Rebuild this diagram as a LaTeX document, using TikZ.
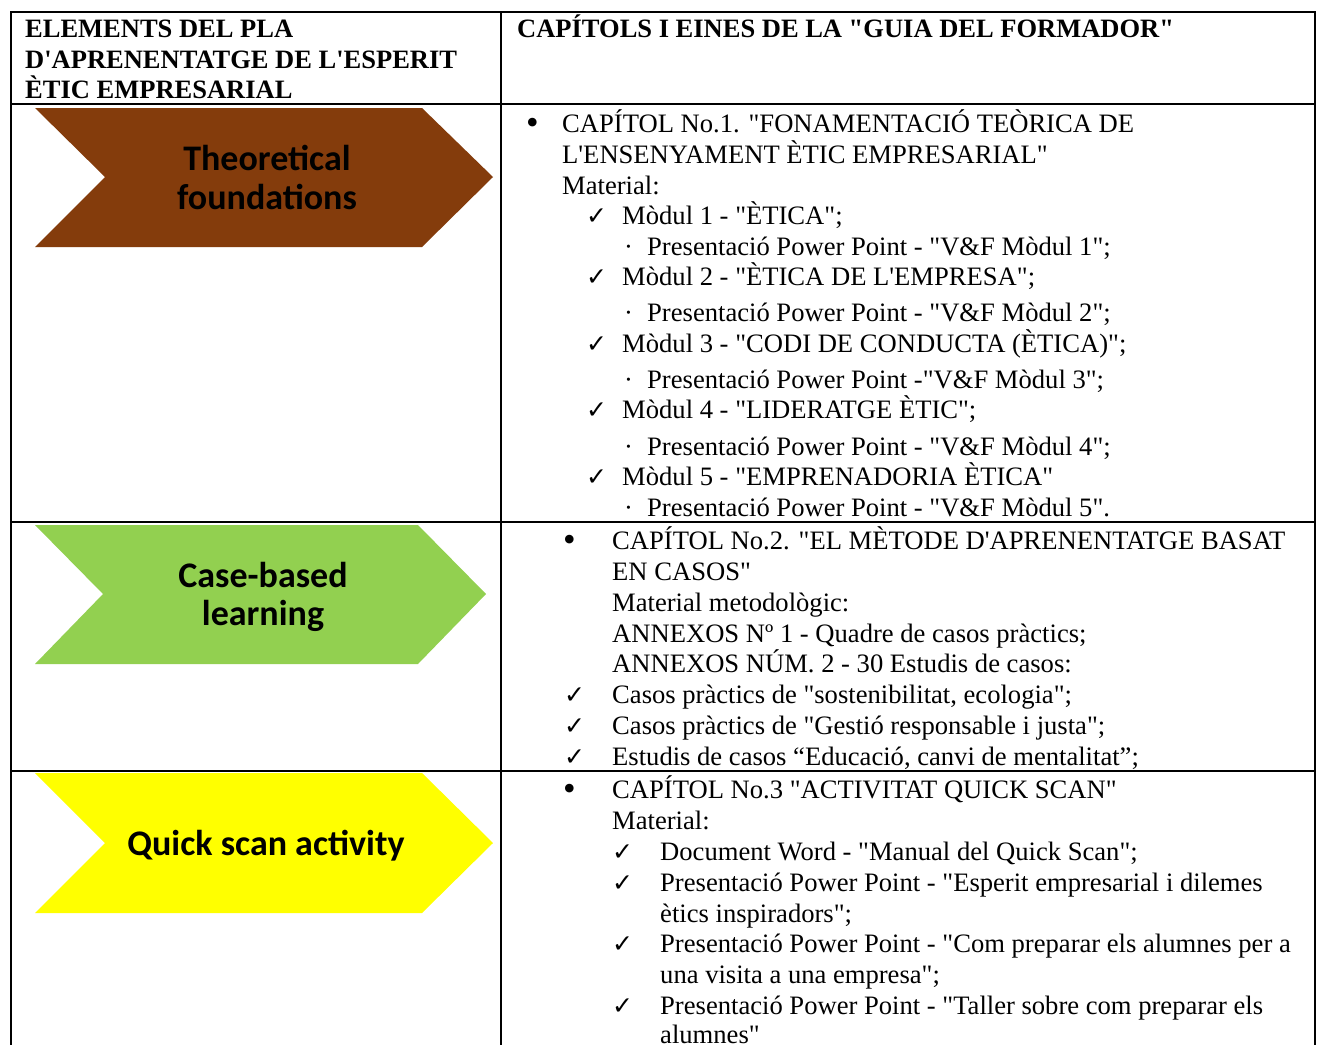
\documentclass[tikz,border=0pt]{standalone}
\usepackage{fontspec}
\setmainfont{Liberation Serif}[Ligatures=TeXOff]
\newfontfamily\calib{Carlito}
\newfontfamily\djv{DejaVu Sans}
\newcommand\mycheck{{\djv\fontsize{25}{25}\selectfont ✓}}
\newcommand\mybul{{\fontsize{36}{30}\selectfont •}}
\definecolor{brownC}{HTML}{843C0C}
\definecolor{greenC}{HTML}{92D050}
\definecolor{yellowC}{HTML}{FFFF00}
\begin{document}
\begin{tikzpicture}[x=1pt,y=-1pt,
  txt/.style={anchor=base west, inner sep=0pt, font=\fontsize{26.6}{30}\selectfont},
  hd/.style={anchor=base west, inner sep=0pt, font=\fontsize{26.5}{30}\selectfont\bfseries},
  marker/.style={anchor=base west, inner sep=0pt, font=\fontsize{26.6}{30}\selectfont},
  chevtxt/.style={anchor=base, inner sep=0pt, font=\calib\bfseries\fontsize{36}{36}\selectfont, text=black},
  rule/.style={line width=2pt, black}]
\useasboundingbox (0,0) rectangle (1317,1044);
\fill[white] (0,0) rectangle (1317,1044);
% table rules
\draw[rule] (11,1060) -- (11,12) -- (1315,12) -- (1315,1060);
\draw[rule] (501,12) -- (501,1060);
\draw[rule] (11,104) -- (1315,104);
\draw[rule] (11,522) -- (1315,522);
\draw[rule] (11,771) -- (1315,771);
% chevrons
\fill[brownC] (35,108) -- (422,108) -- (493,177) -- (422,247) -- (35,247) -- (105,177) -- cycle;
\fill[greenC] (35,525) -- (418,525) -- (486,594) -- (418,664) -- (35,664) -- (103,594) -- cycle;
\fill[yellowC] (35,773) -- (422,773) -- (493,843) -- (422,913) -- (35,913) -- (105,843) -- cycle;
\node[chevtxt] (t1a) at (267,170) {Theoretical};
\node[chevtxt] (t1b) at (267,209) {foundations};
\node[chevtxt] (t2a) at (263,587) {Case-based};
\node[chevtxt] (t2b) at (263,625) {learning};
\node[chevtxt] (t3) at (266,855) {Quick scan activity};
% header
\node[hd] (h1) at (25,37) {ELEMENTS DEL PLA};
\node[hd] (h2) at (25,68) {D'APRENENTATGE DE L'ESPERIT};
\node[hd] (h3) at (25,98) {ÈTIC EMPRESARIAL};
\node[hd] (h4) at (517,37) {CAPÍTOLS I EINES DE LA "GUIA DEL FORMADOR"};
% row 1
\node[marker] (b1) at (526,134) {\mybul};
\node[txt] (r1a) at (562,132) {CAPÍTOL No.1. "FONAMENTACIÓ TEÒRICA DE};
\node[txt] (r1b) at (562,163) {L'ENSENYAMENT ÈTIC EMPRESARIAL"};
\node[txt] (r1c) at (562,194) {Material:};
\node[marker] (c11) at (586,224) {\mycheck};
\node[txt] (r1d) at (622,224) {Mòdul 1 - "ÈTICA";};
\node[marker] (d11) at (624,255) {·};
\node[txt] (r1e) at (647,255) {Presentació Power Point - "V\&F Mòdul 1";};
\node[marker] (c12) at (586,285) {\mycheck};
\node[txt] (r1f) at (622,285) {Mòdul 2 - "ÈTICA DE L'EMPRESA";};
\node[marker] (d12) at (624,321) {·};
\node[txt] (r1g) at (647,321) {Presentació Power Point - "V\&F Mòdul 2";};
\node[marker] (c13) at (586,352) {\mycheck};
\node[txt] (r1h) at (622,352) {Mòdul 3 - "CODI DE CONDUCTA (ÈTICA)";};
\node[marker] (d13) at (624,388) {·};
\node[txt] (r1i) at (647,388) {Presentació Power Point -"V\&F Mòdul 3";};
\node[marker] (c14) at (586,418) {\mycheck};
\node[txt] (r1j) at (622,418) {Mòdul 4 - "LIDERATGE ÈTIC";};
\node[marker] (d14) at (624,455) {·};
\node[txt] (r1k) at (647,455) {Presentació Power Point - "V\&F Mòdul 4";};
\node[marker] (c15) at (586,485) {\mycheck};
\node[txt] (r1l) at (622,485) {Mòdul 5 - "EMPRENADORIA ÈTICA"};
\node[marker] (d15) at (624,516) {·};
\node[txt] (r1m) at (647,516) {Presentació Power Point - "V\&F Mòdul 5".};
% row 2
\node[marker] (b2) at (563,551) {\mybul};
\node[txt] (r2a) at (612,549) {CAPÍTOL No.2. "EL MÈTODE D'APRENENTATGE BASAT};
\node[txt] (r2b) at (612,580) {EN CASOS"};
\node[txt] (r2c) at (612,611) {Material metodològic:};
\node[txt] (r2d) at (612,642) {ANNEXOS Nº 1 - Quadre de casos pràctics;};
\node[txt] (r2e) at (612,672) {ANNEXOS NÚM. 2 - 30 Estudis de casos:};
\node[marker] (c21) at (564,703) {\mycheck};
\node[txt] (r2f) at (612,703) {Casos pràctics de "sostenibilitat, ecologia";};
\node[marker] (c22) at (564,734) {\mycheck};
\node[txt] (r2g) at (612,734) {Casos pràctics de "Gestió responsable i justa";};
\node[marker] (c23) at (564,765) {\mycheck};
\node[txt] (r2h) at (612,765) {Estudis de casos “Educació, canvi de mentalitat”;};
% row 3
\node[marker] (b3) at (563,800) {\mybul};
\node[txt] (r3a) at (612,798) {CAPÍTOL No.3 "ACTIVITAT QUICK SCAN"};
\node[txt] (r3b) at (612,829) {Material:};
\node[marker] (c31) at (612,860) {\mycheck};
\node[txt] (r3c) at (660,860) {Document Word - "Manual del Quick Scan";};
\node[marker] (c32) at (612,891) {\mycheck};
\node[txt] (r3d) at (660,891) {Presentació Power Point - "Esperit empresarial i dilemes};
\node[txt] (r3e) at (660,922) {ètics inspiradors";};
\node[marker] (c33) at (612,952) {\mycheck};
\node[txt] (r3f) at (660,952) {Presentació Power Point - "Com preparar els alumnes per a};
\node[txt] (r3g) at (660,983) {una visita a una empresa";};
\node[marker] (c34) at (612,1014) {\mycheck};
\node[txt] (r3h) at (660,1014) {Presentació Power Point - "Taller sobre com preparar els};
\node[txt] (r3i) at (660,1043) {alumnes"};
\end{tikzpicture}
\end{document}
